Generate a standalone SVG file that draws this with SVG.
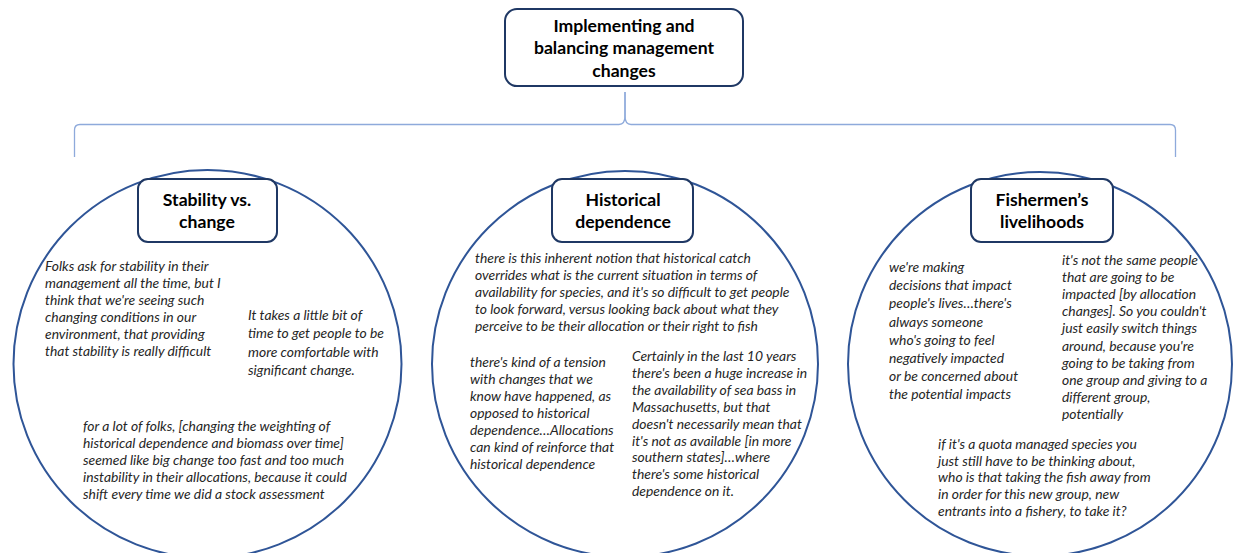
<svg xmlns="http://www.w3.org/2000/svg" width="1235" height="553" viewBox="0 0 1235 553">
  <style>
    .circle { fill: #ffffff; stroke: #2f5597; stroke-width: 2; }
    .box { fill: #ffffff; stroke: #1f3864; stroke-width: 2; }
    .title { font-family: Lato, "Liberation Sans", sans-serif; font-weight: bold; font-size: 17.6px; fill: #000000; text-anchor: middle; }
    .quote { font-family: Lato, "Liberation Sans", sans-serif; font-style: italic; font-size: 13.9px; fill: #262626; }
    .brace { fill: none; stroke: #8eaadb; stroke-width: 1.3; }
  </style>

  <rect width="1235" height="553" fill="#ffffff"/>

  <!-- connectors: curly brace from the root to the three themes -->
  <g id="connectors">
    <path class="brace" d="M625 92 L625 116 Q625 124.5 619 124.5 L80 124.5 Q74.5 124.5 74.5 130 L74.5 157"/>
    <path class="brace" d="M625 92 L625 116 Q625 124.5 631 124.5 L1170 124.5 Q1175.5 124.5 1175.5 130 L1175.5 157"/>
  </g>

  <!-- root node -->
  <g id="root">
    <rect class="box" x="505" y="9" width="238" height="77" rx="12"/>
    <text class="title" x="624" y="32">Implementing and</text>
    <text class="title" x="624" y="54">balancing management</text>
    <text class="title" x="624" y="77">changes</text>
  </g>

  <!-- theme 1 -->
  <g id="stability">
    <circle class="circle" cx="207.5" cy="364" r="194"/>
    <rect class="box" x="138" y="179" width="139" height="63" rx="10"/>
    <text class="title" x="207" y="206">Stability vs.</text>
    <text class="title" x="207" y="228">change</text>
    <text class="quote" x="45" y="271">
      <tspan x="45" dy="0">Folks ask for stability in their</tspan>
      <tspan x="45" dy="17">management all the time, but I</tspan>
      <tspan x="45" dy="17">think that we're seeing such</tspan>
      <tspan x="45" dy="17">changing conditions in our</tspan>
      <tspan x="45" dy="17">environment, that providing</tspan>
      <tspan x="45" dy="17">that stability is really difficult</tspan>
    </text>
    <text class="quote" x="248" y="320">
      <tspan x="248" dy="0">It takes a little bit of</tspan>
      <tspan x="248" dy="18.3">time to get people to be</tspan>
      <tspan x="248" dy="18.3">more comfortable with</tspan>
      <tspan x="248" dy="18.3">significant change.</tspan>
    </text>
    <text class="quote" x="83" y="431">
      <tspan x="83" dy="0">for a lot of folks, [changing the weighting of</tspan>
      <tspan x="83" dy="17">historical dependence and biomass over time]</tspan>
      <tspan x="83" dy="17">seemed like big change too fast and too much</tspan>
      <tspan x="83" dy="17">instability in their allocations, because it could</tspan>
      <tspan x="83" dy="17">shift every time we did a stock assessment</tspan>
    </text>
  </g>

  <!-- theme 2 -->
  <g id="historical">
    <circle class="circle" cx="625" cy="364" r="193"/>
    <rect class="box" x="552" y="179" width="141" height="63" rx="10"/>
    <text class="title" x="623" y="206">Historical</text>
    <text class="title" x="623" y="228">dependence</text>
    <text class="quote" x="475" y="263">
      <tspan x="475" dy="0">there is this inherent notion that historical catch</tspan>
      <tspan x="475" dy="17">overrides what is the current situation in terms of</tspan>
      <tspan x="475" dy="17">availability for species, and it's so difficult to get people</tspan>
      <tspan x="475" dy="17">to look forward, versus looking back about what they</tspan>
      <tspan x="475" dy="17">perceive to be their allocation or their right to fish</tspan>
    </text>
    <text class="quote" x="470" y="367">
      <tspan x="470" dy="0">there's kind of a tension</tspan>
      <tspan x="470" dy="17">with changes that we</tspan>
      <tspan x="470" dy="17">know have happened, as</tspan>
      <tspan x="470" dy="17">opposed to historical</tspan>
      <tspan x="470" dy="17">dependence…Allocations</tspan>
      <tspan x="470" dy="17">can kind of reinforce that</tspan>
      <tspan x="470" dy="17">historical dependence</tspan>
    </text>
    <text class="quote" x="632" y="361">
      <tspan x="632" dy="0">Certainly in the last 10 years</tspan>
      <tspan x="632" dy="16.9">there's been a huge increase in</tspan>
      <tspan x="632" dy="16.9">the availability of sea bass in</tspan>
      <tspan x="632" dy="16.9">Massachusetts, but that</tspan>
      <tspan x="632" dy="16.9">doesn't necessarily mean that</tspan>
      <tspan x="632" dy="16.9">it's not as available [in more</tspan>
      <tspan x="632" dy="16.9">southern states]…where</tspan>
      <tspan x="632" dy="16.9">there's some historical</tspan>
      <tspan x="632" dy="16.9">dependence on it.</tspan>
    </text>
  </g>

  <!-- theme 3 -->
  <g id="livelihoods">
    <circle class="circle" cx="1040" cy="364" r="192"/>
    <rect class="box" x="971" y="179" width="142" height="63" rx="10"/>
    <text class="title" x="1042" y="206">Fishermen’s</text>
    <text class="title" x="1042" y="228">livelihoods</text>
    <text class="quote" x="889" y="272">
      <tspan x="889" dy="0">we're making</tspan>
      <tspan x="889" dy="18.2">decisions that impact</tspan>
      <tspan x="889" dy="18.2">people's lives…there's</tspan>
      <tspan x="889" dy="18.2">always someone</tspan>
      <tspan x="889" dy="18.2">who's going to feel</tspan>
      <tspan x="889" dy="18.2">negatively impacted</tspan>
      <tspan x="889" dy="18.2">or be concerned about</tspan>
      <tspan x="889" dy="18.2">the potential impacts</tspan>
    </text>
    <text class="quote" x="1062" y="265">
      <tspan x="1062" dy="0">it's not the same people</tspan>
      <tspan x="1062" dy="17.1">that are going to be</tspan>
      <tspan x="1062" dy="17.1">impacted [by allocation</tspan>
      <tspan x="1062" dy="17.1">changes]. So you couldn't</tspan>
      <tspan x="1062" dy="17.1">just easily switch things</tspan>
      <tspan x="1062" dy="17.1">around, because you're</tspan>
      <tspan x="1062" dy="17.1">going to be taking from</tspan>
      <tspan x="1062" dy="17.1">one group and giving to a</tspan>
      <tspan x="1062" dy="17.1">different group,</tspan>
      <tspan x="1062" dy="17.1">potentially</tspan>
    </text>
    <text class="quote" x="938" y="449">
      <tspan x="938" dy="0">if it's a quota managed species you</tspan>
      <tspan x="938" dy="16.7">just still have to be thinking about,</tspan>
      <tspan x="938" dy="16.7">who is that taking the fish away from</tspan>
      <tspan x="938" dy="16.7">in order for this new group, new</tspan>
      <tspan x="938" dy="16.7">entrants into a fishery, to take it?</tspan>
    </text>
  </g>
</svg>
